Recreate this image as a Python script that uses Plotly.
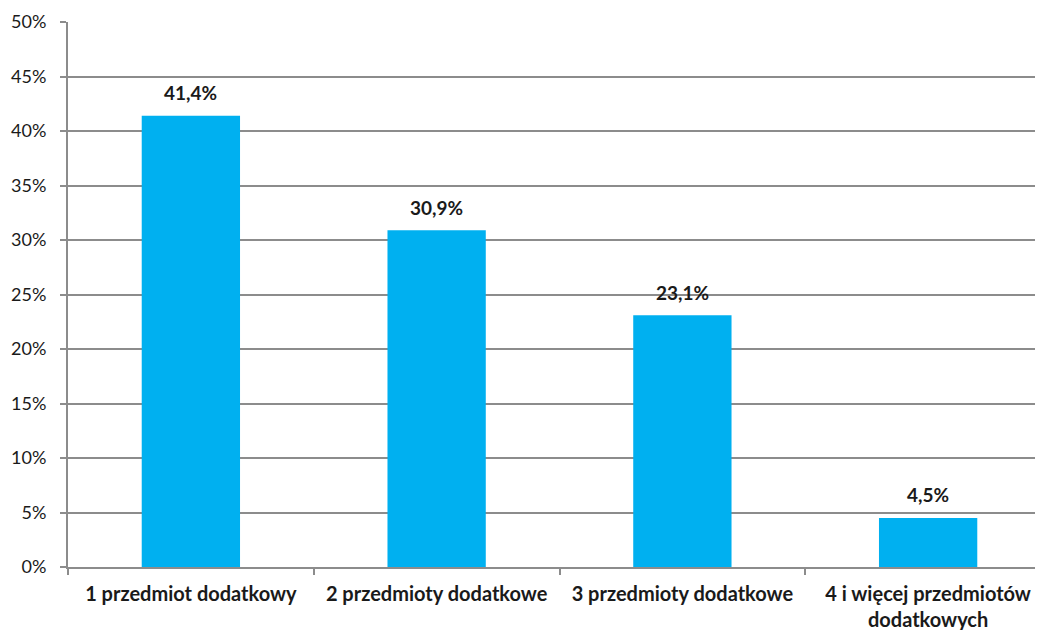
import plotly.graph_objects as go

categories = ["1 przedmiot dodatkowy", "2 przedmioty dodatkowe", "3 przedmioty dodatkowe",
              "4 i więcej przedmiotów<br>dodatkowych"]
values = [41.4, 30.9, 23.1, 4.5]
labels = ["41,4%", "30,9%", "23,1%", "4,5%"]
tick_vals = [0, 5, 10, 15, 20, 25, 30, 35, 40, 45, 50]
tick_text = [f"{v}%" for v in tick_vals]

FONT = "Lato, Open Sans, sans-serif"
TXT = "#1a1a1a"
GRID = "#8c8c8c"

fig = go.Figure(go.Bar(
    x=categories, y=values,
    marker=dict(color="#00B0F0", line=dict(width=0)),
    width=0.40, hoverinfo="skip",
))

for c, v, t in zip(categories, values, labels):
    fig.add_annotation(x=c, y=v, text=t, showarrow=False, yanchor="middle",
                       yshift=23, font=dict(family=FONT, size=19, color=TXT, weight="bold"))

fig.update_layout(
    width=1043, height=630,
    margin=dict(l=60, r=0, t=14, b=71),
    paper_bgcolor="white", plot_bgcolor="white",
    showlegend=False,
    font=dict(family=FONT, size=18, color=TXT),
)
fig.update_yaxes(
    range=[0, 50], tickvals=tick_vals, ticktext=tick_text,
    showgrid=True, gridcolor=GRID, gridwidth=1.5,
    showline=True, linecolor=GRID, linewidth=2,
    ticks="outside", ticklen=6, tickcolor=GRID, tickwidth=1.5,
    ticklabelstandoff=10, automargin=False,
    tickfont=dict(family=FONT, size=18, color=TXT),
    zeroline=False, fixedrange=True,
)
fig.update_xaxes(
    range=[-0.5, 3.5],
    showline=True, linecolor=GRID, linewidth=2,
    ticks="outside", ticklen=6, tickcolor=GRID, tickwidth=1.5,
    tickson="boundaries", ticklabelstandoff=8, automargin=False,
    tickfont=dict(family=FONT, size=20, color=TXT, weight="bold"),
    fixedrange=True,
)

fig.write_html("out.html")
